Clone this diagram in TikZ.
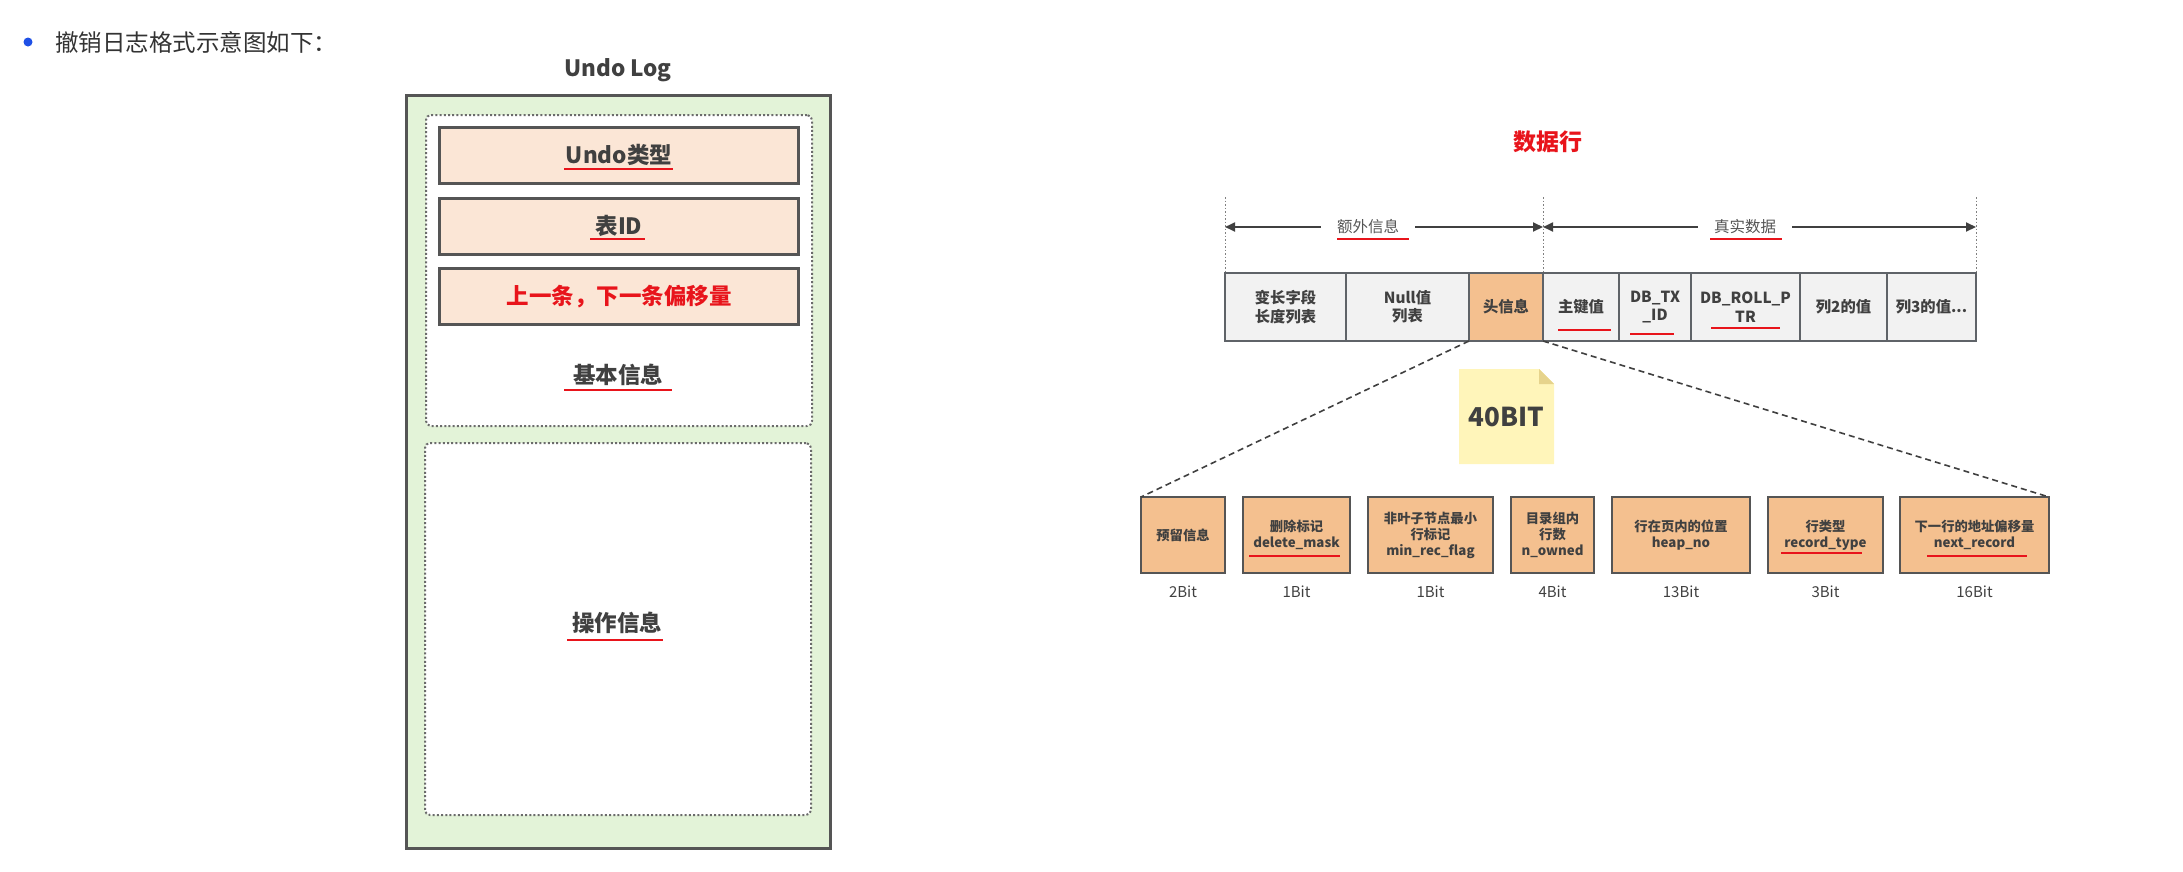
\documentclass[tikz,border=0pt]{standalone}
\usepackage{fontspec}
\setmainfont{Noto Sans CJK SC}
\usetikzlibrary{arrows.meta}
\definecolor{txt}{HTML}{404040}
\definecolor{headc}{HTML}{333333}
\definecolor{bord}{HTML}{555555}
\definecolor{greenfill}{HTML}{E3F3D8}
\definecolor{peachfill}{HTML}{FBE6D6}
\definecolor{redc}{HTML}{E8141B}
\definecolor{cellfill}{HTML}{F2F2F2}
\definecolor{cellbord}{HTML}{5F6368}
\definecolor{orangefill}{HTML}{F4C08F}
\definecolor{notefill}{HTML}{FFF5BA}
\definecolor{foldfill}{HTML}{E6D38C}
\definecolor{bulletblue}{HTML}{1E50E6}
\definecolor{dotc}{HTML}{6B6B6B}
\begin{document}
\begin{tikzpicture}[x=1pt,y=-1pt]
\tikzset{
 ulog/.style={draw=bord, line width=3pt, fill=greenfill, minimum width=424pt, minimum height=753pt, inner sep=0pt, outer sep=0pt},
 dotbox/.style={draw=dotc, line width=2pt, dash pattern=on 2pt off 2.2pt, fill=white, rounded corners=5pt, inner sep=0pt, outer sep=0pt},
 peach/.style={draw=bord, line width=3pt, fill=peachfill, minimum width=359pt, minimum height=56pt, inner sep=0pt, outer sep=0pt, text=txt, font=\fontsize{22.5}{26}\selectfont\bfseries},
 lbl/.style={text=txt, font=\fontsize{22.5}{26}\selectfont\bfseries, inner sep=0pt},
 redul/.style={draw=redc, line width=2.5pt},
 cell/.style={draw=cellbord, line width=2pt, fill=cellfill, minimum height=68pt, inner sep=0pt, outer sep=0pt, align=center, text=txt, font=\fontsize{15.3}{18.5}\selectfont\bfseries},
 bitbox/.style={draw=bord, line width=2pt, fill=orangefill, minimum height=76pt, inner sep=0pt, outer sep=0pt, align=center, text=txt, font=\fontsize{13.3}{16}\selectfont\bfseries},
 bitlbl/.style={text=txt, font=\fontsize{15}{18}\selectfont, inner sep=0pt},
 dimlbl/.style={text=bord, font=\fontsize{15.5}{18}\selectfont, inner xsep=16pt, inner ysep=0pt},
 dimline/.style={draw=txt, line width=1.8pt, -{Triangle[length=10pt,width=9pt]}},
 vdot/.style={draw=gray, line width=1pt, dash pattern=on 1.5pt off 2pt},
 dashline/.style={draw=txt, line width=1.6pt, dash pattern=on 6pt off 4pt},
}
\useasboundingbox (0,0) rectangle (2183,871);

% heading
\fill[bulletblue] (28,42) circle (4.5pt);
\node[anchor=west, inner sep=0pt, text=headc, font=\fontsize{23.5}{28}\selectfont] (head) at (55,42) {撤销日志格式示意图如下：};

% ---------- Undo Log ----------
\node[lbl] (title) at (618,70) {Undo Log};
\node[ulog] (ul) at (618,471.5) {};
\node[dotbox, minimum width=386pt, minimum height=311pt] (basic) at (619,270.5) {};
\node[dotbox, minimum width=386pt, minimum height=372pt] (oper) at (618,629) {};
\node[peach] (p1) at (619,155) {Undo类型};
\node[peach] (p2) at (619,226) {表ID};
\node[peach, text=redc] (p3) at (619,296.5) {上一条，下一条偏移量};
\node[lbl] (basictxt) at (618,375) {基本信息};
\node[lbl] (opertxt) at (617,623) {操作信息};
\draw[redul] (564,169) -- (673,169);
\draw[redul] (590,239) -- (645,239);
\draw[redul] (564,390) -- (672,390);
\draw[redul] (567,640) -- (663,640);

% ---------- data row ----------
\node[text=redc, font=\fontsize{23}{27}\selectfont\bfseries, inner sep=0pt] (rowtitle) at (1548,142) {数据行};

\node[cell, minimum width=121pt] (c1) at (1285.5,307) {变长字段\\长度列表};
\node[cell, minimum width=123pt] (c2) at (1407.5,307) {Null值\\列表};
\node[cell, minimum width=74pt, fill=orangefill] (c3) at (1506,307) {头信息};
\node[cell, minimum width=76pt] (c4) at (1581,307) {主键值};
\node[cell, minimum width=72pt] (c5) at (1655,307) {DB\_TX\\\_ID};
\node[cell, minimum width=109pt] (c6) at (1745.5,307) {DB\_ROLL\_P\\TR};
\node[cell, minimum width=87pt] (c7) at (1843.5,307) {列2的值};
\node[cell, minimum width=89pt] (c8) at (1931.5,307) {列3的值...};
\draw[redul] (1558,330) -- (1611,330);
\draw[redul] (1630,334) -- (1674,334);
\draw[redul] (1711,328) -- (1780,328);

% dimension lines
\coordinate (t1) at (1225,197);
\coordinate (t2) at (1543,197);
\coordinate (t3) at (1976,197);
\draw[vdot] (t1) -- (c1.north west);
\draw[vdot] (t2) -- (c3.north east);
\draw[vdot] (t3) -- (c8.north east);
\coordinate (a1) at (1225,227);
\coordinate (a2) at (1543,227);
\coordinate (a3) at (1976,227);
\node[dimlbl] (extra) at (1368,227) {额外信息};
\node[dimlbl] (real) at (1745,227) {真实数据};
\draw[dimline] (extra.west) -- (a1);
\draw[dimline] (extra.east) -- (a2);
\draw[dimline] (real.west) -- (a2);
\draw[dimline] (real.east) -- (a3);
\draw[redul] (1337,239) -- (1409,239);
\draw[redul] (1710,239) -- (1782,239);

% note 40BIT
\node[minimum width=95pt, minimum height=95pt, inner sep=0pt, outer sep=0pt] (note) at (1506.5,416.5) {};
\fill[notefill] (note.north west) -- ([xshift=-15pt]note.north east) -- ([yshift=-15pt]note.north east) -- (note.south east) -- (note.south west) -- cycle;
\fill[foldfill] ([xshift=-15pt]note.north east) -- ([yshift=-15pt]note.north east) -- ([xshift=-15pt,yshift=-15pt]note.north east) -- cycle;
\node[text=txt, font=\fontsize{26}{30}\selectfont\bfseries, inner sep=0pt] (notetxt) at (note.center) {40BIT};

% bit boxes
\node[bitbox, minimum width=84pt] (b1) at (1183,535) {预留信息};
\node[bitbox, minimum width=107pt] (b2) at (1296.5,535) {删除标记\\delete\_mask};
\node[bitbox, minimum width=125pt] (b3) at (1430.5,535) {非叶子节点最小\\行标记\\min\_rec\_flag};
\node[bitbox, minimum width=83pt] (b4) at (1552.5,535) {目录组内\\行数\\n\_owned};
\node[bitbox, minimum width=138pt] (b5) at (1681,535) {行在页内的位置\\heap\_no};
\node[bitbox, minimum width=115pt] (b6) at (1825.5,535) {行类型\\record\_type};
\node[bitbox, minimum width=149pt] (b7) at (1974.5,535) {下一行的地址偏移量\\next\_record};
\draw[redul] (1249,556) -- (1340,556);
\draw[redul] (1781,553) -- (1862,553);
\draw[redul] (1927,556) -- (2027,556);

\node[bitlbl] (l1) at (1183,592) {2Bit};
\node[bitlbl] (l2) at (1296.5,592) {1Bit};
\node[bitlbl] (l3) at (1430.5,592) {1Bit};
\node[bitlbl] (l4) at (1552.5,592) {4Bit};
\node[bitlbl] (l5) at (1681,592) {13Bit};
\node[bitlbl] (l6) at (1825.5,592) {3Bit};
\node[bitlbl] (l7) at (1974.5,592) {16Bit};

% dashed expansion lines
\draw[dashline] (c3.south west) -- (b1.north west);
\draw[dashline] (c3.south east) -- (b7.north east);
\end{tikzpicture}
\end{document}
